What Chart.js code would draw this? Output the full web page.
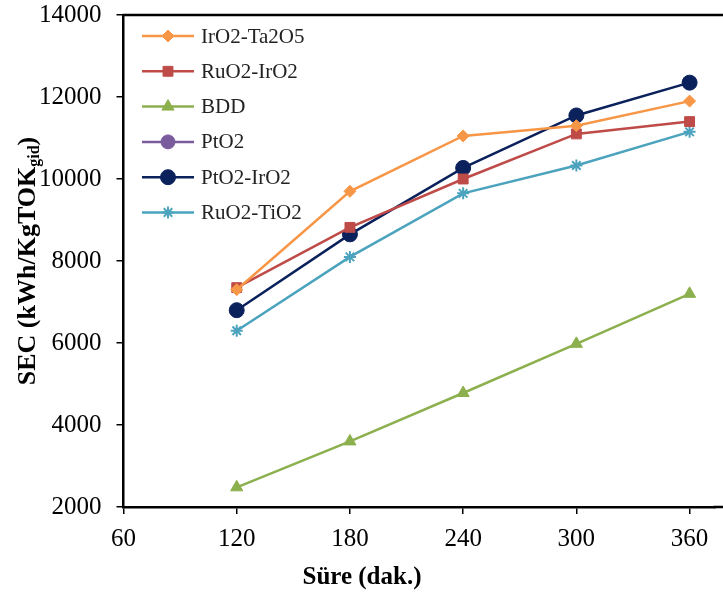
<!DOCTYPE html>
<html>
<head>
<meta charset="utf-8">
<script src="https://cdn.jsdelivr.net/npm/chart.js@4.4.0/dist/chart.umd.min.js"></script>
<style>
  html, body { margin: 0; padding: 0; background: #fff; overflow: hidden; }
  canvas { display: block; }
</style>
</head>
<body>
<canvas id="sec" width="723" height="597"></canvas>
<script>
// electrolysis time (min) and specific energy consumption per electrode
const sure = [120, 180, 240, 300, 360];
const xTicks = [60, 120, 180, 240, 300, 360];
const irTa = [7300, 9700, 11050, 11300, 11900];
const ruIr = [7350, 8820, 10000, 11100, 11400];
const bdd = [2480, 3600, 4780, 5980, 7200];
const pt = [];
const ptIr = [6800, 8650, 10270, 11550, 12350];
const ruTi = [6300, 8100, 9650, 10330, 11150];

const serif = '"Liberation Serif", "Times New Roman", serif';

function pts(arr) {
    return arr.map((v, i) => ({ x: sure[i], y: v }));
}

const series = [
    { label: 'IrO2-Ta2O5', data: irTa, color: '#F79646', style: 'rectRot', r: 6 },
    { label: 'RuO2-IrO2', data: ruIr, color: '#BE4B48', style: 'rect', r: 7 },
    { label: 'BDD', data: bdd, color: '#8DB04E', style: 'triangle', r: 7 },
    { label: 'PtO2', data: pt, color: '#7A5C9E', style: 'circle', r: 7 },
    { label: 'PtO2-IrO2', data: ptIr, color: '#0B215C', style: 'circle', r: 7.5 },
    { label: 'RuO2-TiO2', data: ruTi, color: '#4BA3BE', style: 'star', r: 6 }
];

// frame lines, x tick labels, legend inside the plot, axis titles
const extras = {
    id: 'extras',
    afterDraw(chart) {
        const c = chart.ctx;
        const area = chart.chartArea;
        const xs = chart.scales.x;
        c.save();
        c.strokeStyle = '#000';
        c.lineWidth = 2.5;
        c.beginPath();
        c.moveTo(area.left - 1, area.top);
        c.lineTo(chart.width, area.top);
        c.moveTo(area.right - 1, area.bottom);
        c.lineTo(chart.width, area.bottom);
        c.stroke();

        c.fillStyle = '#000';
        c.font = '25px ' + serif;
        c.textAlign = 'center';
        c.textBaseline = 'middle';
        xTicks.forEach(v => c.fillText(String(v), xs.getPixelForValue(v), area.bottom + 32));

        series.forEach((s, i) => {
            const y = 36 + i * 35.3;
            c.strokeStyle = s.color;
            c.lineWidth = 2.5;
            c.beginPath();
            c.moveTo(142, y);
            c.lineTo(194, y);
            c.stroke();
            c.fillStyle = s.color;
            c.lineWidth = s.style === 'star' ? 2 : 1;
            Chart.helpers.drawPoint(c, { pointStyle: s.style, radius: s.r, borderWidth: c.lineWidth }, 168, y);
            c.fillStyle = '#222';
            c.font = '21px ' + serif;
            c.textBaseline = 'middle';
            c.textAlign = 'left';
            c.fillText(s.label, 201, y + 1);
        });

        c.fillStyle = '#000';
        c.font = 'bold 25px ' + serif;
        c.textAlign = 'center';
        c.textBaseline = 'middle';
        c.fillText('Süre (dak.)', 362, 578);

        c.translate(35, 261);
        c.rotate(-Math.PI / 2);
        c.textBaseline = 'alphabetic';
        const a = 'SEC (kWh/KgTOK', sub = 'gid', b = ')';
        c.font = 'bold 26px ' + serif;
        const wa = c.measureText(a).width, wb = c.measureText(b).width;
        c.font = 'bold 16px ' + serif;
        const ws = c.measureText(sub).width;
        let x = -(wa + ws + wb) / 2;
        c.textAlign = 'left';
        c.font = 'bold 26px ' + serif;
        c.fillText(a, x, 0);
        c.font = 'bold 16px ' + serif;
        c.fillText(sub, x + wa, 4);
        c.font = 'bold 26px ' + serif;
        c.fillText(b, x + wa + ws, 0);
        c.restore();
    }
};

new Chart(document.getElementById('sec'), {
    type: 'line',
    data: {
        datasets: series.map(s => ({
            label: s.label,
            data: pts(s.data),
            borderColor: s.color,
            backgroundColor: s.color,
            pointStyle: s.style,
            pointRadius: s.r,
            pointBorderWidth: s.style === 'star' ? 2 : 1,
            borderWidth: 2.5,
            tension: 0
        }))
    },
    options: {
        responsive: false,
        animation: false,
        layout: { padding: { top: 15, right: 8, left: 0, bottom: 0 } },
        plugins: { legend: { display: false }, tooltip: { enabled: false } },
        scales: {
            x: {
                type: 'linear',
                min: 60,
                max: 373.2,
                afterBuildTicks: s => { s.ticks = xTicks.map(v => ({ value: v })); },
                afterFit: s => { s.height = 90; s.paddingLeft = 0; s.paddingRight = 0; },
                grid: { drawOnChartArea: false, color: '#000', tickLength: 7, lineWidth: 1.5 },
                border: { color: '#000', width: 2.5 },
                ticks: { display: false }
            },
            y: {
                min: 2000,
                max: 14000,
                afterFit: s => { s.width = 123.5; s.paddingTop = 0; s.paddingBottom = 0; },
                grid: { drawOnChartArea: false, color: '#000', tickLength: 7, lineWidth: 1.5 },
                border: { color: '#000', width: 2.5 },
                ticks: { stepSize: 2000, color: '#000', font: { family: serif, size: 25 }, padding: 15, callback: v => String(v) }
            }
        }
    },
    plugins: [extras]
});
</script>
</body>
</html>
